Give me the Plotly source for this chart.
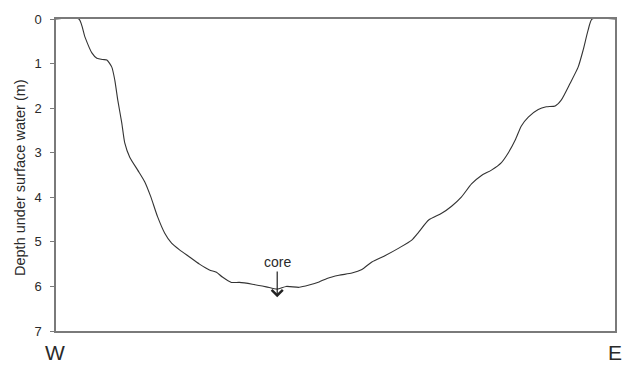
import plotly.graph_objects as go

# Cross-section of the lake bed, west to east
distance = [0, 23, 29, 36, 41, 47, 51, 56, 59, 62, 66, 69, 74, 82, 89, 95,
            102, 109, 116, 124, 134, 144, 154, 161, 167, 176, 184, 197, 211, 222,
            231, 244, 254, 264, 272, 284, 297, 307, 317, 331, 344, 357, 364, 374,
            387, 397, 407, 417, 427, 437, 447, 454, 461, 467, 474, 484, 492, 501,
            507, 516, 524, 529, 534, 538, 561]
depth = [0, 0, 0.40, 0.76, 0.88, 0.91, 0.92, 1.08, 1.37, 1.82, 2.33, 2.78, 3.10,
         3.39, 3.65, 3.98, 4.44, 4.80, 5.03, 5.18, 5.34, 5.50, 5.63, 5.68,
         5.79, 5.91, 5.91, 5.95, 6.01, 6.06, 6.00, 6.02, 5.97, 5.90, 5.82, 5.75,
         5.70, 5.62, 5.45, 5.30, 5.14, 4.96, 4.78, 4.51, 4.36, 4.20, 3.99, 3.70,
         3.51, 3.39, 3.22, 3.00, 2.71, 2.40, 2.20, 2.03, 1.97, 1.95, 1.82, 1.44,
         1.08, 0.70, 0.25, 0, 0]

core_distance = 222
core_depth = 6.24
core_label_depth = 5.45

y_ticks = [0, 1, 2, 3, 4, 5, 6, 7]

FONT = "Liberation Sans, Arial, sans-serif"
AXIS_COLOR = "#7a7a7a"
TEXT_COLOR = "#2a2a2a"

fig = go.Figure()
fig.add_trace(go.Scatter(
    x=distance, y=depth, mode="lines",
    line=dict(color="#333333", width=1.1, shape="spline", smoothing=0.6),
    showlegend=False, hoverinfo="skip",
))

fig.add_annotation(
    x=core_distance, y=core_depth, ax=core_distance, ay=core_label_depth,
    xref="x", yref="y", axref="x", ayref="y",
    text="core", showarrow=True, arrowhead=4, arrowsize=1.8, arrowwidth=1.2,
    arrowcolor="#222222", font=dict(family=FONT, size=14, color=TEXT_COLOR),
)

# Compass labels under the ends of the section
fig.add_annotation(x=0, y=0, xref="paper", yref="paper", xanchor="center", yanchor="middle",
                   xshift=-1, yshift=-21, showarrow=False, borderpad=0,
                   text="W", font=dict(family=FONT, size=21, color=TEXT_COLOR))
fig.add_annotation(x=1, y=0, xref="paper", yref="paper", xanchor="center", yanchor="middle",
                   xshift=0, yshift=-21, showarrow=False, borderpad=0,
                   text="E", font=dict(family=FONT, size=21, color=TEXT_COLOR))

# Vertical axis title
fig.add_annotation(x=0, y=0.5, xref="paper", yref="paper", xanchor="center", yanchor="middle",
                   xshift=-36, yshift=-3, showarrow=False,
                   text="Depth under surface water (m)", textangle=-90,
                   font=dict(family=FONT, size=14.5, color=TEXT_COLOR))

fig.update_xaxes(
    range=[0, 561], showticklabels=False, ticks="", showgrid=False, zeroline=False,
    showline=True, linecolor=AXIS_COLOR, linewidth=1.5, mirror=True,
)
fig.update_yaxes(
    range=[7, 0], tickvals=y_ticks, ticktext=[str(t) for t in y_ticks],
    ticks="outside", ticklen=4, tickcolor=AXIS_COLOR, tickwidth=1,
    ticklabelstandoff=6,
    tickfont=dict(family=FONT, size=13, color=TEXT_COLOR),
    showgrid=False, zeroline=False,
    showline=True, linecolor=AXIS_COLOR, linewidth=1.5, mirror=True,
)

fig.update_layout(
    width=628, height=365,
    margin=dict(l=56, r=11, t=19, b=34),
    paper_bgcolor="white", plot_bgcolor="white",
)

fig.write_html("out.html")
